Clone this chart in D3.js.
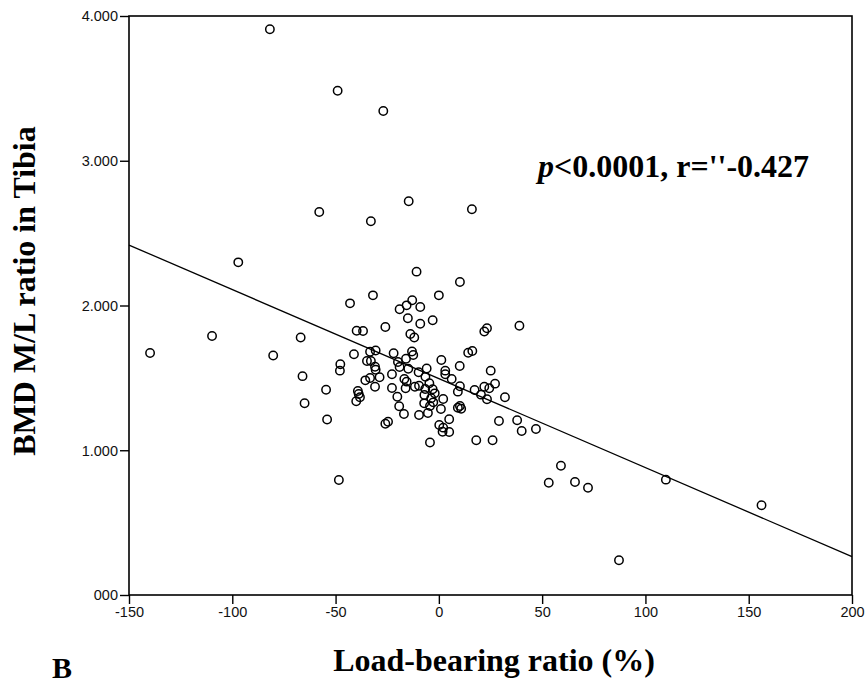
<!DOCTYPE html>
<html>
<head>
<meta charset="utf-8">
<script src="https://cdn.jsdelivr.net/npm/d3@7"></script>
<style>
  body { margin: 0; background: #fff; }
  svg { display: block; }
</style>
</head>
<body>
<div id="chart"></div>
<script>
// load-bearing ratio (%) per subject
const load_ratio = [-81.8, -49.0, -26.9, -57.9, -32.9, -14.6, 16.0, -10.8, 10.2, -31.9,
	-43.0, 0.0, -12.9, -15.6, -19.0, -9.0, -15.0, -3.0, -9.0, -25.9,
	-39.8, -36.7, -66.9, -13.8, -11.9, 22.0, 23.3, 39.0, -97.1, -109.8,
	-139.8, -80.2, -66.0, -65.0, -54.6, -54.1, -48.4, -41.1, -33.3, -30.6,
	-21.9, -13.0, -12.4, -34.8, -32.9, -19.8, -19.0, -15.9, -14.8, -47.7,
	-47.9, -30.9, -30.6, -9.8, -5.9, -22.7, -28.7, -35.6, -33.3, -16.7,
	-15.6, -6.5, -30.9, -22.7, -16.1, -11.6, -9.6, -6.6, -7.0, -39.2,
	-38.8, -38.2, -40.0, -20.1, -7.1, -19.2, -16.9, -9.6, -5.3, -25.9,
	-24.6, -4.3, 14.2, 16.2, 1.2, 10.1, 3.1, 3.1, 25.1, 6.2,
	-4.6, 27.2, 22.0, 24.4, 10.2, 9.2, 17.3, 20.4, 32.0, 23.3,
	-3.0, -2.0, -3.7, 2.1, -2.7, -4.3, 9.2, 10.2, 10.8, 1.0,
	5.0, 29.1, 37.9, 0.2, 2.1, 1.8, 5.0, 40.1, 47.0, 18.1,
	26.0, 59.1, 65.9, 72.2, 109.9, 156.2, 87.2, 53.2]

// BMD M/L ratio in tibia, same order
const bmd_ratio = [3.908, 3.484, 3.344, 2.646, 2.582, 2.720, 2.665, 2.234, 2.162, 2.070,
	2.015, 2.070, 2.036, 2.001, 1.974, 1.990, 1.912, 1.898, 1.874, 1.851,
	1.826, 1.824, 1.779, 1.803, 1.779, 1.820, 1.843, 1.860, 2.298, 1.789,
	1.672, 1.655, 1.512, 1.325, 1.418, 1.212, 0.794, 1.663, 1.681, 1.689,
	1.670, 1.682, 1.658, 1.617, 1.617, 1.610, 1.575, 1.632, 1.563, 1.594,
	1.550, 1.577, 1.556, 1.539, 1.565, 1.525, 1.504, 1.483, 1.499, 1.492,
	1.474, 1.507, 1.439, 1.430, 1.428, 1.439, 1.446, 1.423, 1.382, 1.409,
	1.389, 1.366, 1.338, 1.370, 1.324, 1.304, 1.250, 1.244, 1.257, 1.183,
	1.197, 1.054, 1.674, 1.686, 1.623, 1.582, 1.550, 1.525, 1.550, 1.492,
	1.463, 1.460, 1.439, 1.428, 1.442, 1.405, 1.416, 1.384, 1.366, 1.352,
	1.421, 1.393, 1.359, 1.354, 1.331, 1.306, 1.294, 1.306, 1.287, 1.285,
	1.214, 1.202, 1.207, 1.174, 1.156, 1.128, 1.126, 1.133, 1.147, 1.069,
	1.069, 0.893, 0.781, 0.741, 0.797, 0.620, 0.240, 0.775]

const x_ticks = [-150, -100, -50, 0, 50, 100, 150, 200]
const y_ticks = [0, 1, 2, 3, 4]
const y_tick_labels = ["000", "1.000", "2.000", "3.000", "4.000"]

// fitted regression line
const fit_intercept = 1.495
const fit_slope = -0.00615

const width = 866
const height = 686
const plot_left = 129, plot_right = 852, plot_top = 16, plot_bottom = 595
const serif = "'Liberation Serif', 'Times New Roman', serif"
const sans = "'Liberation Sans', Arial, sans-serif"

var svg = d3.select("#chart")
	.append("svg")
	.attr("width", width)
	.attr("height", height);

var x = d3.scaleLinear().domain([x_ticks[0], x_ticks[x_ticks.length-1]]).range([plot_left, plot_right]);
var y = d3.scaleLinear().domain([y_ticks[0], y_ticks[y_ticks.length-1]]).range([plot_bottom, plot_top]);

// frame
svg.append("rect")
	.attr("x", plot_left)
	.attr("y", plot_top)
	.attr("width", plot_right-plot_left)
	.attr("height", plot_bottom-plot_top)
	.attr("fill", "none")
	.attr("stroke", "black")
	.attr("stroke-width", 1.6);

// plain hyphen for negatives, like the original
var xaxis = svg.append("g")
	.attr("transform", `translate(0,${plot_bottom})`)
	.call(d3.axisBottom(x).tickValues(x_ticks).tickSize(9).tickPadding(3).tickFormat(d => String(d)));

var yaxis = svg.append("g")
	.attr("transform", `translate(${plot_left},0)`)
	.call(d3.axisLeft(y).tickValues(y_ticks).tickSize(9).tickPadding(2)
		.tickFormat((d, i) => y_tick_labels[i]));

[xaxis, yaxis].forEach(ax => {
	ax.select(".domain").remove();
	ax.selectAll("line").attr("stroke", "black").attr("stroke-width", 1.4);
	ax.selectAll("text")
		.attr("font-family", sans)
		.attr("font-size", "14.5px")
		.attr("fill", "#111");
});
yaxis.selectAll("text").attr("dy", "0.34em");

// regression line
var fit_x = x.domain()
svg.append("line")
	.attr("x1", x(fit_x[0]))
	.attr("y1", y(fit_intercept + fit_slope*fit_x[0]))
	.attr("x2", x(fit_x[1]))
	.attr("y2", y(fit_intercept + fit_slope*fit_x[1]))
	.attr("stroke", "black")
	.attr("stroke-width", 1.3);

// points
var points = load_ratio.map((v, i) => ({lr: v, bmd: bmd_ratio[i]}))
svg.selectAll(".pt")
	.data(points)
	.enter().append("circle")
	.attr("class", "pt")
	.attr("cx", d => x(d.lr))
	.attr("cy", d => y(d.bmd))
	.attr("r", 4.2)
	.attr("fill", "none")
	.attr("stroke", "black")
	.attr("stroke-width", 1.5);

// axis titles
svg.append("text")
	.attr("transform", "translate(35,291) rotate(-90)")
	.attr("text-anchor", "middle")
	.attr("font-family", serif)
	.attr("font-weight", "bold")
	.attr("font-size", "32px")
	.text("BMD M/L ratio in Tibia");

svg.append("text")
	.attr("x", 494)
	.attr("y", 671)
	.attr("text-anchor", "middle")
	.attr("font-family", serif)
	.attr("font-weight", "bold")
	.attr("font-size", "32px")
	.text("Load-bearing ratio (%)");

// panel letter, kept just inside the bottom edge
svg.append("text")
	.attr("x", 52)
	.attr("y", 678)
	.attr("font-family", serif)
	.attr("font-weight", "bold")
	.attr("font-size", "30px")
	.text("B");

// statistics annotation
var note = svg.append("text")
	.attr("x", 538)
	.attr("y", 177)
	.attr("font-family", serif)
	.attr("font-weight", "bold")
	.attr("font-size", "32px");
note.append("tspan").attr("font-style", "italic").text("p");
note.append("tspan").text("<0.0001, r=''-0.427");
</script>
</body>
</html>
